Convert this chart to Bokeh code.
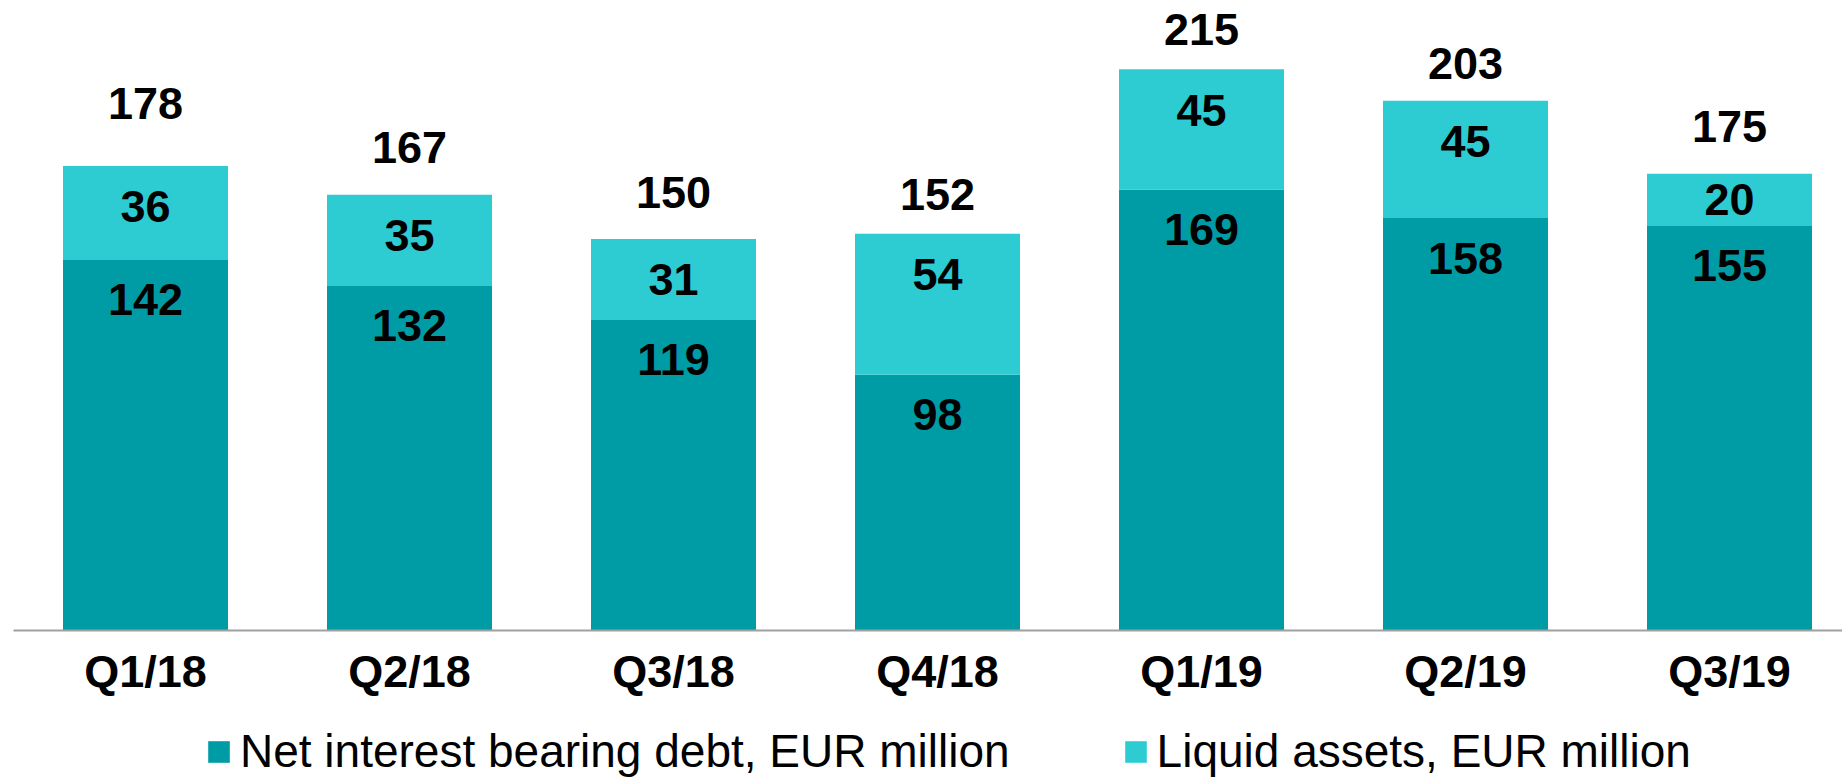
from bokeh.plotting import figure
from bokeh.layouts import column
from bokeh.models import ColumnDataSource, LabelSet, Legend, LegendItem, FixedTicker, Range1d
from bokeh.core.properties import value
from bokeh.embed import file_html
from bokeh.resources import INLINE

quarters = ["Q1/18", "Q2/18", "Q3/18", "Q4/18", "Q1/19", "Q2/19", "Q3/19"]
net_debt = [142, 132, 119, 98, 169, 158, 155]
liquid_assets = [36, 35, 31, 54, 45, 45, 20]
totals = [178, 167, 150, 152, 215, 203, 175]
total_label_lift = [62, 47, 47, 39, 40, 37, 47]  # px above bar top
series_names = ["Net interest bearing debt, EUR million", "Liquid assets, EUR million"]

DARK = "#009CA6"
LIGHT = "#2DCCD3"
BOLD_FONT = "Liberation Sans"
REG_FONT = "Liberation Sans"

W = 1842
H_MAIN, H_LEG = 700, 77
LEFT_B, BOTTOM_B = 13, 70
STEP = 264.0
frame_h = H_MAIN - BOTTOM_B
y_end = frame_h / 2.61
px_per_unit = frame_h / y_end
x_start = -0.5
x_end = x_start + (W - LEFT_B) / STEP

idx = list(range(len(quarters)))

p = figure(width=W, height=H_MAIN, output_backend="svg", toolbar_location=None,
           x_range=Range1d(x_start, x_end), y_range=Range1d(0, y_end),
           y_axis_location=None,
           min_border_left=LEFT_B, min_border_right=0, min_border_top=0,
           min_border_bottom=BOTTOM_B)
p.outline_line_color = None
p.grid.visible = False
p.background_fill_color = "white"
p.border_fill_color = "white"

src = ColumnDataSource(dict(
    x=idx, debt=net_debt, liq=liquid_assets, tot=totals,
    tot_txt=[str(v) for v in totals],
    debt_txt=[str(v) for v in net_debt],
    liq_txt=[str(v) for v in liquid_assets],
    tot_off=total_label_lift,
    debt_off=[-40] * len(idx),
    liq_off=[-min(41.0, v * px_per_unit / 2.0) for v in liquid_assets],
))

bw = 165 / STEP
p.vbar(x="x", bottom=0, top="debt", width=bw, source=src,
       fill_color=DARK, line_color=None)
p.vbar(x="x", bottom="debt", top="tot", width=bw, source=src,
       fill_color=LIGHT, line_color=None)

common = dict(text_align="center", text_baseline="middle",
              text_font=value(BOLD_FONT), text_font_style="bold",
              text_font_size="45px", text_color="black", source=src)
p.add_layout(LabelSet(x="x", y="tot", text="tot_txt", y_offset="tot_off", **common))
p.add_layout(LabelSet(x="x", y="debt", text="debt_txt", y_offset="debt_off", **common))
p.add_layout(LabelSet(x="x", y="tot", text="liq_txt", y_offset="liq_off", **common))

ax = p.xaxis[0]
ax.ticker = FixedTicker(ticks=idx)
ax.major_label_overrides = {i: q for i, q in zip(idx, quarters)}
ax.major_tick_out = 0
ax.major_tick_in = 0
ax.minor_tick_out = 0
ax.minor_tick_in = 0
ax.axis_line_color = "#A0A0A0"
ax.axis_line_width = 2
ax.major_label_standoff = 15
ax.major_label_text_font = BOLD_FONT
ax.major_label_text_font_style = "bold"
ax.major_label_text_font_size = "45px"
ax.major_label_text_color = "black"

# Legend strip below the chart
lg = figure(width=W, height=H_LEG, output_backend="svg", toolbar_location=None,
            x_range=Range1d(0, 1), y_range=Range1d(0, 1),
            x_axis_location=None, y_axis_location=None,
            min_border_left=0, min_border_right=0, min_border_top=0, min_border_bottom=0)
lg.outline_line_color = None
lg.grid.visible = False
leg_src = ColumnDataSource(dict(x=[0], b=[0], t=[0]))
l1 = lg.vbar(x="x", bottom="b", top="t", width=0, source=leg_src, fill_color=DARK, line_color=None)
l2 = lg.vbar(x="x", bottom="b", top="t", width=0, source=leg_src, fill_color=LIGHT, line_color=None)

legend = Legend(items=[
    LegendItem(label=series_names[0], renderers=[l1]),
    LegendItem(label=series_names[1], renderers=[l2]),
], orientation="horizontal", location=(192, -1),
    glyph_width=27, glyph_height=27, label_standoff=8, spacing=112,
    padding=0, margin=0, border_line_color=None, background_fill_alpha=0,
    label_text_font=REG_FONT, label_text_font_size="46px", label_text_color="black")
lg.add_layout(legend, "center")

layout = column(p, lg, spacing=0)
open("out.html", "w").write(file_html(layout, INLINE))
